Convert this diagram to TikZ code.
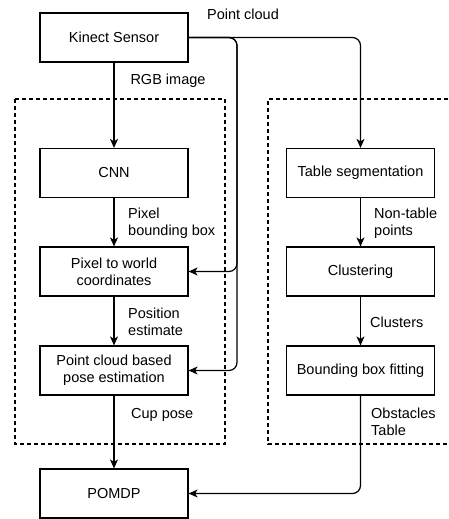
\documentclass[tikz,border=0pt]{standalone}
\usepackage{fontspec}
\setmainfont{Liberation Sans}
\usetikzlibrary{arrows.meta}
\begin{document}
\begin{tikzpicture}[x=1pt,y=-1pt,
  every node/.style={font=\fontsize{14.5}{17}\selectfont},
  box/.style={draw, line width=1.2pt, minimum width=148pt, minimum height=49pt, align=center, inner sep=2pt},
  lbl/.style={inner sep=0pt, align=left, anchor=west},
  arr/.style={line width=1.2pt, -{Stealth[length=9pt,width=8pt,inset=2.5pt]}},
  grp/.style={line width=1.2pt, dash pattern=on 4pt off 3pt}]
\useasboundingbox (0,0) rectangle (448,519);
% groups
\draw[grp] (15,99) rectangle (225,444);
\draw[grp] (448,99) -- (268,99) -- (268,444) -- (448,444);
% boxes
\node[box] (kin) at (114,37.5) {Kinect Sensor};
\node[box] (cnn) at (114,173) {CNN};
\node[box] (p2w) at (114,271.5) {Pixel to world\\coordinates};
\node[box] (pcb) at (114,370.5) {Point cloud based\\pose estimation};
\node[box] (pom) at (114,493.5) {POMDP};
\node[box] (ts) at (360.5,173) {Table segmentation};
\node[box] (cl) at (360.5,271.5) {Clustering};
\node[box] (bbf) at (360.5,370.5) {Bounding box fitting};
% labels
\node[inner sep=0pt] (lpc) at (243,14) {Point cloud};
\node[inner sep=0pt] (lrgb) at (168,81) {RGB image};
\node[lbl] (lpbb) at (128,223.5) {Pixel\\bounding box};
\node[lbl] (lpe) at (128,321.5) {Position\\estimate};
\node[lbl] (lcp) at (131,415) {Cup pose};
\node[lbl] (lnt) at (374,223.5) {Non-table\\points};
\node[lbl] (lcl) at (370,322) {Clusters};
\node[lbl] (lob) at (371,421.5) {Obstacles\\Table};
% connectors
\coordinate (v1) at (237,0);
\draw[arr] (kin.south) -- (cnn.north);
\draw[arr] (cnn.south) -- (p2w.north);
\draw[arr] (p2w.south) -- (pcb.north);
\draw[arr] (pcb.south) -- (pom.north);
\draw[arr] (ts.south) -- (cl.north);
\draw[arr] (cl.south) -- (bbf.north);
\draw[arr, rounded corners=8pt] (kin.east) -| (v1 |- p2w.east) -- (p2w.east);
\draw[arr, rounded corners=8pt] (kin.east) -| (v1 |- pcb.east) -- (pcb.east);
\draw[arr, rounded corners=8pt] (kin.east) -| (ts.north);
\draw[arr, rounded corners=8pt] (bbf.south) |- (pom.east);
\end{tikzpicture}
\end{document}
